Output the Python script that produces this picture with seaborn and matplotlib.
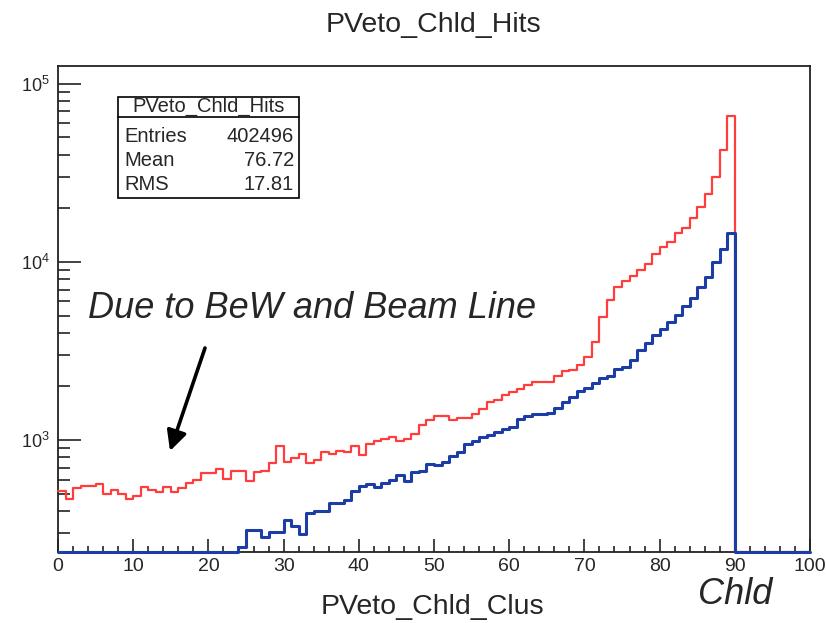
import numpy as np
import pandas as pd
import matplotlib
matplotlib.use("Agg")
import matplotlib.pyplot as plt
import seaborn as sns
from matplotlib.patches import Rectangle
from matplotlib.lines import Line2D
from matplotlib.ticker import MultipleLocator, LogLocator, NullFormatter, LogFormatterSciNotation

# ---------------- data ----------------
n_bins = 100
x_range = (0, 100)
bin_centers = np.arange(0, 100, 1) + 0.5

# PVeto_Chld_Hits (red) – per-bin counts
hits_all = [520, 469, 538, 549, 549, 565, 497, 524, 497, 464,
            485, 547, 524, 512, 547, 512, 536, 573, 594, 650,
            650, 685, 602, 671, 671, 591, 661, 674, 746, 922,
            755, 794, 834, 743, 776, 856, 838, 873, 853, 922,
            828, 946, 991, 1010, 1044, 987, 1013, 1081, 1214, 1287,
            1359, 1356, 1302, 1332, 1332, 1400, 1488, 1635, 1678, 1797,
            1854, 1940, 2037, 2126, 2126, 2126, 2277, 2451, 2461, 2632,
            2908, 3543, 4909, 6115, 7218, 7791, 8364, 9018, 9745, 11050,
            12090, 13000, 14500, 15520, 17580, 20450, 24160, 30150, 42590, 66270,
            0, 0, 0, 0, 0, 0, 0, 0, 0, 0]

# PVeto_Chld_Clus (blue) – per-bin counts
hits_clus = [0, 0, 0, 0, 0, 0, 0, 0, 0, 0,
             0, 0, 0, 0, 0, 0, 0, 0, 0, 0,
             0, 0, 0, 0, 252, 312, 312, 284, 305, 305,
             355, 329, 296, 391, 401, 399, 441, 441, 460, 519,
             551, 564, 547, 576, 596, 636, 592, 657, 674, 736,
             724, 752, 818, 860, 953, 981, 1040, 1067, 1113, 1150,
             1180, 1316, 1368, 1396, 1396, 1424, 1507, 1631, 1744, 1873,
             1965, 2082, 2222, 2280, 2516, 2572, 2826, 3203, 3521, 3889,
             4187, 4619, 5019, 5638, 6254, 7209, 8204, 10000, 11830, 14500,
             0, 0, 0, 0, 0, 0, 0, 0, 0, 0]

stats_title = "PVeto_Chld_Hits"
stats_labels = ["Entries", "Mean", "RMS"]
stats_values = ["402496", "76.72", "17.81"]

y_min, y_max = 235, 1.26e5

# ---------------- style ----------------
sns.set_style("white")
plt.rcParams['font.family'] = ['Liberation Sans', 'DejaVu Sans']
plt.rcParams['mathtext.fontset'] = 'custom'
plt.rcParams['mathtext.rm'] = 'Liberation Sans'
plt.rcParams['mathtext.it'] = 'Liberation Sans:italic'

fig = plt.figure(figsize=(8.26, 6.23), dpi=100)
ax = fig.add_axes([58/826, 1-552/623, (810-58)/826, (552-66)/623])

df = pd.DataFrame({"x": bin_centers,
                   "all": np.clip(hits_all, y_min, None).astype(float),
                   "clus": np.clip(hits_clus, y_min, None).astype(float)})

sns.histplot(data=df, x="x", weights="all", bins=n_bins, binrange=x_range, element="step",
             fill=False, color="#ff3d3d", linewidth=1.6, ax=ax, zorder=3)
sns.histplot(data=df, x="x", weights="clus", bins=n_bins, binrange=x_range, element="step",
             fill=False, color="#1c3ca6", linewidth=2.2, ax=ax, zorder=4)
for ln in ax.lines:
    ln.set_clip_on(False)

ax.set_yscale("log")
ax.set_xlim(0, 100)
ax.set_ylim(y_min, y_max)
ax.set_xlabel("")
ax.set_ylabel("")

ax.xaxis.set_major_locator(MultipleLocator(10))
ax.xaxis.set_minor_locator(MultipleLocator(2))
ax.yaxis.set_major_locator(LogLocator(base=10))
ax.yaxis.set_minor_locator(LogLocator(base=10, subs=np.arange(2, 10)))
ax.yaxis.set_minor_formatter(NullFormatter())
ax.yaxis.set_major_formatter(LogFormatterSciNotation())

ax.tick_params(axis='x', which='major', direction='in', length=9.5, width=1.2,
               bottom=True, top=False, labelsize=14, pad=4, color='#222222')
ax.tick_params(axis='x', which='minor', direction='in', length=4.5, width=1.2,
               bottom=True, top=False, color='#222222')
ax.tick_params(axis='y', which='major', direction='in', length=16.5, width=1.2,
               left=True, right=False, labelsize=13, pad=6, color='#222222')
ax.tick_params(axis='y', which='minor', direction='in', length=8.5, width=1.2,
               left=True, right=False, color='#222222')

for s in ax.spines.values():
    s.set_visible(True)
    s.set_color('#222222')
    s.set_linewidth(1.3)
    s.set_zorder(2)

ax.grid(False)

# titles
fig.text(433/826, 1-25/623, stats_title, ha='center', va='center', fontsize=20.5)
fig.text(432/826, 1-607/623, "PVeto_Chld_Clus", ha='center', va='center', fontsize=20.5)
fig.text(698/826, 1-595/623, "Chld", ha='left', va='center', fontsize=26, style='italic')
fig.text(88/826, 1-308/623, "Due to BeW and Beam Line", ha='left', va='center',
         fontsize=26, style='italic')

# arrow
ax.annotate("", xy=((170-58)/752, (552-451)/486), xytext=((205-58)/752, (552-348)/486),
            xycoords='axes fraction', textcoords='axes fraction',
            arrowprops=dict(arrowstyle='-|>', lw=2.6, color='black', mutation_scale=30,
                            shrinkA=0, shrinkB=0))

# stats box
bx0, bx1 = 118/826, 299/826
by_top, by_bot, by_hdr = 1-97/623, 1-198/623, 1-117/623
fig.add_artist(Rectangle((bx0, by_bot), bx1-bx0, by_top-by_bot, transform=fig.transFigure,
                         facecolor='white', edgecolor='black', linewidth=1.2, zorder=5))
fig.add_artist(Line2D([bx0, bx1], [by_hdr, by_hdr], transform=fig.transFigure,
                      color='black', linewidth=1.2, zorder=6))
fig.text((bx0+bx1)/2, 1-106/623, stats_title, ha='center', va='center', fontsize=14.5, zorder=7)
row_y = [136, 160, 184]
for lab, val, yy in zip(stats_labels, stats_values, row_y):
    fig.text(124/826, 1-yy/623, lab, ha='left', va='center', fontsize=14.5, zorder=7)
    fig.text(294/826, 1-yy/623, val, ha='right', va='center', fontsize=14.5, zorder=7)

fig.savefig("out.png", dpi=100)
